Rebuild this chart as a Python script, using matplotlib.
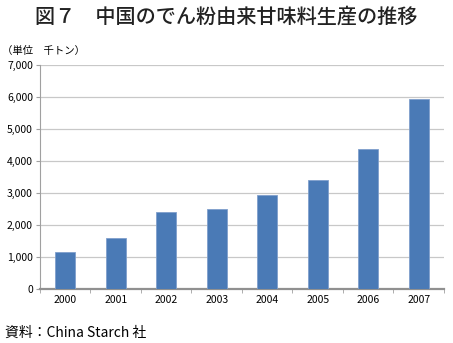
import numpy as np
import matplotlib
matplotlib.use('Agg')
import matplotlib.pyplot as plt
from matplotlib.ticker import FuncFormatter, MultipleLocator

plt.rcParams['font.family'] = ['Noto Sans CJK JP', 'DejaVu Sans']

# production of starch-based sweeteners in China (thousand tons)
years = ['2000', '2001', '2002', '2003', '2004', '2005', '2006', '2007']
production = [1170, 1610, 2400, 2510, 2950, 3410, 4370, 5920]

title = '図７　中国のでん粉由来甘味料生産の推移'
unit_label = '（単位　千トン）'
source = '資料：China Starch 社'

fig = plt.figure(figsize=(4.53, 3.43), dpi=100)
ax = fig.add_axes([0.088, 0.157, 0.892, 0.654])

x = np.arange(len(years))
ax.bar(x, production, width=0.4, color='#4a7ab6', edgecolor='#7f9fcc', linewidth=0.6, zorder=3)

ax.set_xlim(-0.5, len(years) - 0.5)
ax.set_ylim(0, 7000)
ax.yaxis.set_major_locator(MultipleLocator(1000))
ax.yaxis.set_major_formatter(FuncFormatter(lambda v, p: f'{int(v):,}'))
ax.set_xticks(x)
ax.set_xticklabels(years)
ax.set_xticks(np.arange(len(years) + 1) - 0.5, minor=True)

ax.grid(axis='y', color='#c8c8c8', linewidth=0.9, zorder=0)
for s in ['top', 'right']:
    ax.spines[s].set_visible(False)
ax.spines['left'].set_color('#a0a0a0')
ax.spines['bottom'].set_color('#909090')
ax.spines['bottom'].set_linewidth(1.6)

ax.tick_params(axis='y', length=3, color='#a0a0a0', labelsize=7.5, pad=2)
ax.tick_params(axis='x', which='major', length=0, labelsize=7.5, pad=4)
ax.tick_params(axis='x', which='minor', length=3, color='#a0a0a0')

fig.text(0.5, 0.95, title, ha='center', va='center', fontsize=14.5, fontweight='medium', color='#222222')
fig.text(0.005, 0.852, unit_label, ha='left', va='center', fontsize=7.5)
fig.text(0.01, 0.03, source, ha='left', va='center', fontsize=10)

fig.savefig('out.png', dpi=100)
